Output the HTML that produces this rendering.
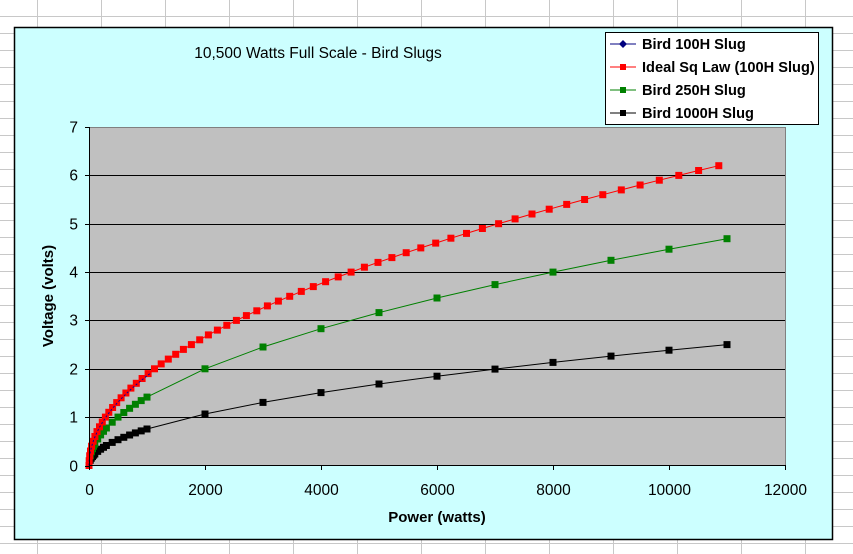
<!DOCTYPE html>
<html><head><meta charset="utf-8"><style>
html,body{margin:0;padding:0;background:#fff;}
svg{display:block;font-family:"Liberation Sans",Arial,sans-serif;}
</style></head><body>
<svg id="s" width="853" height="554" xmlns="http://www.w3.org/2000/svg">
<g id="grid" stroke="#c8c8c8" stroke-width="1"></g>
<rect x="14.5" y="27.5" width="818" height="512" fill="#ccffff" stroke="#000" stroke-width="1.5"/>
<rect x="89.5" y="127.5" width="696" height="338" fill="#c0c0c0" stroke="#808080"/>
<g id="hl" stroke="#000" stroke-width="1"></g>
<g id="series"></g>
<line x1="89.5" y1="127" x2="89.5" y2="466" stroke="#000"/>
<line x1="89" y1="465.5" x2="786" y2="465.5" stroke="#000"/>
<g id="ticks" stroke="#000"></g>
<g id="labels" font-size="15.5" fill="#000"></g>
<text x="318" y="58" font-size="15.5" text-anchor="middle">10,500 Watts Full Scale - Bird Slugs</text>
<text x="437" y="522" font-size="15" font-weight="bold" text-anchor="middle">Power (watts)</text>
<text transform="translate(53,296) rotate(-90)" font-size="15" font-weight="bold" text-anchor="middle">Voltage (volts)</text>
<rect x="605.5" y="32.5" width="213" height="92" fill="#fff" stroke="#000"/>
<g font-size="14.6" font-weight="bold">
<line x1="610" y1="44" x2="636" y2="44" stroke="#000080"/><path d="M623 40 L627 44 L623 48 L619 44Z" fill="#000080"/>
<text x="642" y="49">Bird 100H Slug</text>
<line x1="610" y1="67" x2="636" y2="67" stroke="#f00"/><rect x="620" y="64" width="6" height="6" fill="#f00"/>
<text x="642" y="72">Ideal Sq Law (100H Slug)</text>
<line x1="610" y1="90" x2="636" y2="90" stroke="#008000"/><rect x="620" y="87" width="6" height="6" fill="#008000"/>
<text x="642" y="95">Bird 250H Slug</text>
<line x1="610" y1="113" x2="636" y2="113" stroke="#000"/><rect x="620" y="110" width="6" height="6" fill="#000"/>
<text x="642" y="118">Bird 1000H Slug</text>
</g>
</svg>
<script>
var NS="http://www.w3.org/2000/svg";
function el(p,t,a,txt){var e=document.createElementNS(NS,t);for(var k in a)e.setAttribute(k,a[k]);if(txt!=null)e.textContent=txt;document.getElementById(p).appendChild(e);return e;}
for(var y=16;y<554;y+=17){el("grid","line",{x1:0,y1:y+.5,x2:853,y2:y+.5});}
for(var x=37;x<853;x+=64){el("grid","line",{x1:x+.5,y1:0,x2:x+.5,y2:554});}
function X(p){return 89+p*696/12000;}
function Y(v){return 465.5-v*338.5/7;}
for(var i=1;i<7;i++){el("hl","line",{x1:89,y1:Math.round(Y(i))+.5,x2:785,y2:Math.round(Y(i))+.5});}
for(var i=0;i<=7;i++){var yy=Math.round(Y(i))+.5;el("ticks","line",{x1:85,y1:yy,x2:89,y2:yy});el("labels","text",{x:78,y:yy+5,"text-anchor":"end"},String(i));}
for(var i=0;i<=6;i++){var xx=Math.round(X(i*2000))+.5;el("ticks","line",{x1:xx,y1:466,x2:xx,y2:470});el("labels","text",{x:xx,y:495,"text-anchor":"middle"},String(i*2000));}
function series(pts,col){
 var d=pts.map(function(p,i){return (i?"L":"M")+X(p[0]).toFixed(1)+" "+Y(p[1]).toFixed(1);}).join(" ");
 el("series","path",{d:d,fill:"none",stroke:col,"stroke-width":1});
 pts.forEach(function(p){el("series","rect",{x:(X(p[0])-3.5).toFixed(1),y:(Y(p[1])-3.5).toFixed(1),width:7,height:7,fill:col});});
}
var g=[],b=[],r=[],bl=[];
var small=[0,20,40,60,80,100,150,200,250,300,400,500,600,700,800,900,1000];
small.forEach(function(p){g.push([p,Math.sqrt(p/500)]);b.push([p,Math.sqrt(p/1760)]);});
for(var p=2000;p<=11000;p+=1000){g.push([p,Math.sqrt(p/500)]);b.push([p,Math.sqrt(p/1760)]);}
var k=0.0595;
r.push([0,0]);
for(var v=1;v<=62;v++){var V=v/10;r.push([Math.pow(V/k,2),V]);}
series(b,"#000");series(g,"#008000");series(r,"#f00");
for(var v=0;v<=19;v++){var V=v/10;bl.push([Math.pow(V/k,2)*1.03,V]);}
el("series","path",{d:bl.map(function(p,i){return (i?"L":"M")+X(p[0]).toFixed(1)+" "+Y(p[1]).toFixed(1);}).join(" "),fill:"none",stroke:"#0000a0","stroke-width":1,"stroke-dasharray":"2 2"});
</script>
</body></html>
